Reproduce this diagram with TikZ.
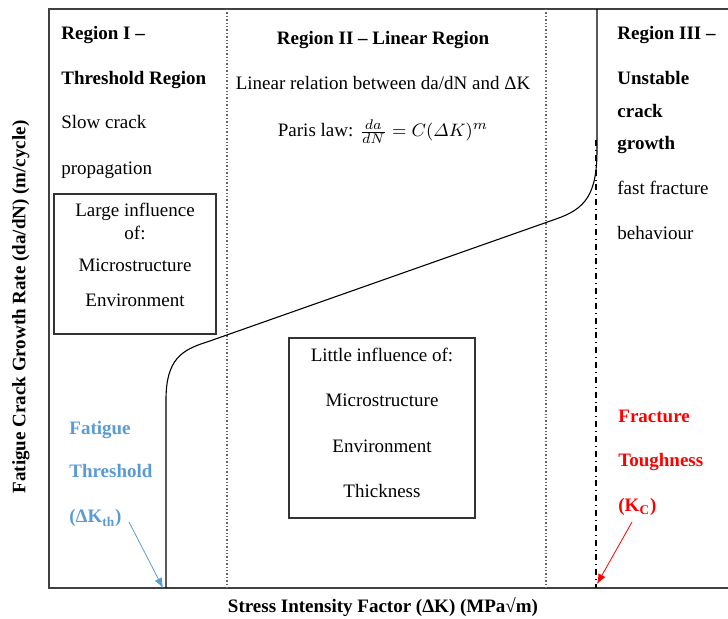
\documentclass[tikz,border=0pt]{standalone}
\usepackage{amsmath}
\usepackage{fontspec}
\setmainfont{Liberation Serif}
\usetikzlibrary{arrows.meta,positioning}
\definecolor{threshblue}{RGB}{91,155,213}
\definecolor{toughred}{RGB}{255,0,0}
\tikzset{
  txt/.style={font=\fontsize{9.5}{11}\selectfont, inner sep=0pt},
  btxt/.style={font=\fontsize{9.5}{11}\selectfont\bfseries, inner sep=0pt},
  axisline/.style={line width=1.1pt, black!75},
  regionsep/.style={densely dotted, line width=0.7pt, black!60},
  infobox/.style={draw, line width=0.6pt, black!80},
  pointer/.style={-{Latex[length=5pt,width=4pt]}, line width=0.4pt},
}

\begin{document}
\begin{tikzpicture}[x=0.5pt,y=-0.5pt]
  \useasboundingbox (0,0) rectangle (728,619);

  % axes and region borders
  \draw[axisline] (728,9) -- (49,9) -- (49,588) -- (728,588);
  \draw[regionsep] (227,9) -- (227,588);
  \draw[regionsep] (546,9) -- (546,588);
  \draw[dash dot, line width=0.6pt] (596,140) -- (596,588);

  % crack growth curve
  \draw[line width=0.55pt] (166,588) -- (166,400)
    .. controls (166,360) and (181,350) .. (207,342) -- (556,219)
    .. controls (585,209) and (597,195) .. (597,150) -- (597,9);

  % boxes
  \node[infobox, minimum width=81pt, minimum height=70pt] (large) at (135,264) {};
  \node[infobox, minimum width=93pt, minimum height=90pt] (little) at (382,428) {};

  % Region I
  \node[btxt, anchor=base west] (r1a) at (61,40) {Region I --};
  \node[btxt, anchor=base west] (r1b) at (61,85) {Threshold Region};
  \node[txt, anchor=base west] (r1c) at (61,129) {Slow crack};
  \node[txt, anchor=base west] (r1d) at (61,175) {propagation};

  \node[txt, anchor=base] (l1) at (135,217) {Large influence};
  \node[txt, anchor=base] (l2) at (135,240) {of:};
  \node[txt, anchor=base] (l3) at (135,272) {Microstructure};
  \node[txt, anchor=base] (l4) at (135,307) {Environment};

  % Region II
  \node[btxt, anchor=base] (r2a) at (383,45) {Region II -- Linear Region};
  \node[txt, anchor=base] (r2b) at (383,90) {Linear relation between da/dN and ΔK};
  \node[txt, anchor=base] (r2c) at (383,137) {Paris law: $\frac{da}{dN} = C(\varDelta K)^m$};

  \node[txt, anchor=base] (s1) at (382,362) {Little influence of:};
  \node[txt, anchor=base] (s2) at (382,407) {Microstructure};
  \node[txt, anchor=base] (s3) at (382,453) {Environment};
  \node[txt, anchor=base] (s4) at (382,498) {Thickness};

  % Region III
  \node[btxt, anchor=base west] (r3a) at (617,40) {Region III --};
  \node[btxt, anchor=base west] (r3b) at (617,85) {Unstable};
  \node[btxt, anchor=base west] (r3c) at (617,118) {crack};
  \node[btxt, anchor=base west] (r3d) at (617,150) {growth};
  \node[txt, anchor=base west] (r3e) at (617,195) {fast fracture};
  \node[txt, anchor=base west] (r3f) at (617,240) {behaviour};

  % threshold and toughness
  \node[btxt, threshblue, anchor=base west] (th1) at (69,435) {Fatigue};
  \node[btxt, threshblue, anchor=base west] (th2) at (69,478) {Threshold};
  \node[btxt, threshblue, anchor=base west] (th3) at (69,523) {(ΔK\textsubscript{th})};
  \coordinate (kthtail) at (129,522);
  \coordinate (kth) at (163,588);
  \draw[pointer, threshblue] (kthtail) -- (kth);

  \node[btxt, toughred, anchor=base west] (kc1) at (618,423) {Fracture};
  \node[btxt, toughred, anchor=base west] (kc2) at (618,467) {Toughness};
  \node[btxt, toughred, anchor=base west] (kc3) at (618,512) {(K\textsubscript{C})};
  \coordinate (kctail) at (632,522);
  \coordinate (kc) at (597,584);
  \draw[pointer, toughred] (kctail) -- (kc);

  % axis labels
  \node[btxt] (xlab) at (383,607) {Stress Intensity Factor (ΔK) (MPa√m)};
  \node[btxt, rotate=90] (ylab) at (21,307) {Fatigue Crack Growth Rate (da/dN) (m/cycle)};
\end{tikzpicture}
\end{document}
